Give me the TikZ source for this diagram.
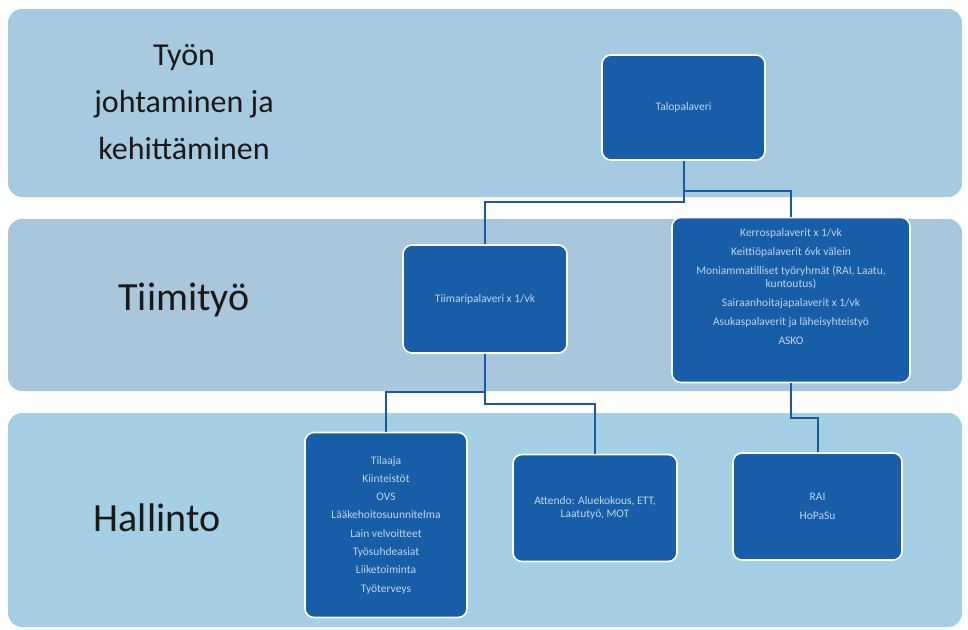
\documentclass[tikz,border=0pt]{standalone}
\usepackage{fontspec}
\setmainfont{Carlito}
\usetikzlibrary{calc}
\definecolor{bandA}{RGB}{166,203,224}
\definecolor{bandB}{RGB}{168,198,220}
\definecolor{bandC}{RGB}{164,207,229}
\definecolor{boxfill}{RGB}{24,93,167}
\definecolor{boxtext}{RGB}{190,214,238}
\definecolor{linkcol}{RGB}{28,88,158}
\definecolor{labcol}{RGB}{25,25,25}
\tikzset{
  band/.style={fill=#1, draw=none, rounded corners=14pt},
  bandlabel/.style={font=\fontsize{40}{48}\selectfont, text=labcol, align=center, inner sep=0pt},
  orgbox/.style={fill=boxfill, draw=white, line width=1.6pt, rounded corners=9pt,
    text=boxtext, align=center, inner sep=2pt,
    font=\fontsize{11.5}{13}\selectfont},
  boxtxt/.style={text=boxtext, align=center, inner sep=0pt, font=\fontsize{11.5}{13}\selectfont},
  link/.style={draw=linkcol, line width=2pt}
}
\begin{document}
\begin{tikzpicture}[x=1pt,y=-1pt]
\useasboundingbox[fill=white] (0,0) rectangle (968,629);
% bands
\path[band=bandA] (8,9) rectangle (962,197);
\path[band=bandB] (8,219) rectangle (962,391);
\path[band=bandC] (8,413) rectangle (962,627);
% labels
\node[bandlabel, font=\fontsize{32}{47}\selectfont] (lab1) at (184,102) {Työn\\johtaminen ja\\kehittäminen};
\node[bandlabel] (lab2) at (184,300) {Tiimityö};
\node[bandlabel] (lab3) at (157,518) {Hallinto};
% boxes
\node[orgbox, minimum width=163pt, minimum height=105pt] (talo) at (683.5,107.5) {Talopalaveri};
\node[orgbox, minimum width=164pt, minimum height=108pt] (tiimi) at (485,299) {Tiimaripalaveri x 1/vk};
\node[orgbox, minimum width=238pt, minimum height=165pt] (kerros) at (791,300) {};
\node[boxtxt, anchor=north] (kerrostxt) at ([yshift=-12pt]kerros.north) {Kerrospalaverit x 1/vk\\[6pt]
Keittiöpalaverit 6vk välein\\[6pt]
Moniammatilliset työryhmät (RAI, Laatu,\\kuntoutus)\\[6pt]
Sairaanhoitajapalaverit x 1/vk\\[6pt]
Asukaspalaverit ja läheisyhteistyö\\[6pt]
ASKO};
\node[orgbox, minimum width=162pt, minimum height=185pt] (tilaaja) at (386,525) {Tilaaja\\[5.3pt]
Kiinteistöt\\[5.3pt]
OVS\\[5.3pt]
Lääkehoitosuunnitelma\\[5.3pt]
Lain velvoitteet\\[5.3pt]
Työsuhdeasiat\\[5.3pt]
Liiketoiminta\\[5.3pt]
Työterveys};
\node[orgbox, minimum width=164pt, minimum height=107pt] (attendo) at (595,508) {Attendo: Aluekokous, ETT,\\Laatutyö, MOT};
\node[orgbox, minimum width=169pt, minimum height=107pt] (rai) at (817.5,506.5) {RAI\\[6pt]HoPaSu};
% junction levels
\coordinate (j1) at (0,191);
\coordinate (j2) at (0,202);
\coordinate (j3) at (0,392);
\coordinate (j4) at (0,404);
\coordinate (j5) at (0,418);
% connectors
\draw[link] (talo.south) -- (talo.south |- j1) -| (kerros.north);
\draw[link] (talo.south) -- (talo.south |- j2) -| (tiimi.north);
\draw[link] (tiimi.south) -- (tiimi.south |- j3) -| (tilaaja.north);
\draw[link] (tiimi.south) -- (tiimi.south |- j4) -| (attendo.north);
\draw[link] (kerros.south) -- (kerros.south |- j5) -| (rai.north);
\end{tikzpicture}
\end{document}
